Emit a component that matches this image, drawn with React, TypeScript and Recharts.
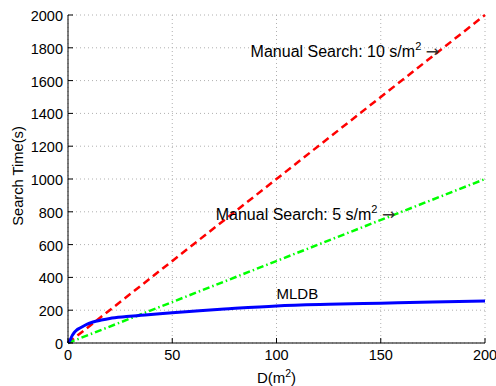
import React from 'react';
import { LineChart, Line, XAxis, YAxis, CartesianGrid, ReferenceDot, Label } from 'recharts';

const xTicks = [0, 50, 100, 150, 200];
const yTicks = [0, 200, 400, 600, 800, 1000, 1200, 1400, 1600, 1800, 2000];

const manualX = [0, 200];
const manual10Y = [0, 2000];
const manual5Y = [0, 1000];

const mldbX = [0, 1, 2, 3, 4, 6, 9, 12, 16, 20, 28, 35, 44, 50, 63, 75, 100, 125, 150, 175, 200];
const mldbY = [0, 18, 45, 64, 77, 93, 114, 128, 140, 150, 161, 169, 179, 185, 197, 207, 226, 236, 243, 250, 256];

const annot10 = { x: 178, y: 1780, text: 'Manual Search: 10 s/m' };
const annot5 = { x: 157, y: 785, text: 'Manual Search: 5 s/m' };
const mldbLabel = { x: 100, y: 300, text: 'MLDB' };

const manual10 = manualX.map((x, i) => ({ x, y: manual10Y[i] }));
const manual5 = manualX.map((x, i) => ({ x, y: manual5Y[i] }));
const mldb = mldbX.map((x, i) => ({ x, y: mldbY[i] }));

const FONT = "'Liberation Sans', Arial, Helvetica, sans-serif";
const FS = 14.5;
const MB = 7;
const ML = 5;
const T = 5;

const BottomTick = (p: any) => {
  const { x, y, payload } = p;
  return (
    <g>
      <line x1={x} x2={x} y1={y - MB} y2={y - MB - T} stroke="#000" strokeWidth={1} />
      <text x={x} y={y} dy="0.71em" textAnchor="middle" fontSize={FS} fontFamily={FONT} fill="#000">
        {payload.value}
      </text>
    </g>
  );
};

const LeftTick = (p: any) => {
  const { x, y, payload } = p;
  return (
    <g>
      <line x1={x + ML} x2={x + ML + T} y1={y} y2={y} stroke="#000" strokeWidth={1} />
      <text x={x} y={y} dy="0.42em" textAnchor="end" fontSize={FS} fontFamily={FONT} fill="#000">
        {payload.value}
      </text>
    </g>
  );
};

const TopTick = (p: any) => {
  const { x, y } = p;
  return <line x1={x} x2={x} y1={y} y2={y + T} stroke="#000" strokeWidth={1} />;
};

const RightTick = (p: any) => {
  const { x, y } = p;
  return <line x1={x} x2={x - T} y1={y} y2={y} stroke="#000" strokeWidth={1} />;
};

const ArrowText = (text: string) => (p: any) => {
  const { cx, cy } = p;
  return (
    <text x={cx} y={cy + 5.5} textAnchor="end" fontSize={16} fontFamily={FONT} fill="#000">
      {text}
      <tspan dy={-6.5} fontSize={11}>2</tspan>
      <tspan dy={6.5}>{' '}</tspan>
      <tspan fontFamily="'DejaVu Sans', sans-serif" fill="#333">{'\u2192'}</tspan>
    </text>
  );
};

const PlainText = (text: string) => (p: any) => {
  const { cx, cy } = p;
  return (
    <text x={cx} y={cy + 5} textAnchor="start" fontSize={15} fontFamily={FONT} fill="#000">
      {text}
    </text>
  );
};

const XLabel = (p: any) => {
  const vb = p.viewBox;
  const cx = vb.x + vb.width / 2;
  const by = vb.y + 39.5;
  return (
    <text x={cx} y={by} textAnchor="middle" fontSize={15} fontFamily={FONT} fill="#000">
      D(m<tspan dy={-6} fontSize={10.5}>2</tspan><tspan dy={6}>)</tspan>
    </text>
  );
};

const YLabel = (p: any) => {
  const vb = p.viewBox;
  const bx = vb.x + 23;
  const cy = vb.y + vb.height / 2 - 3;
  return (
    <text x={bx} y={cy} transform={`rotate(-90, ${bx}, ${cy})`} textAnchor="middle" fontSize={14.7} fontFamily={FONT} fill="#000">
      Search Time(s)
    </text>
  );
};

export default function App() {
  return (
    <div style={{ position: 'absolute', left: 0, top: 0, background: '#fff' }}>
      <LineChart width={496} height={386} margin={{ top: 15, right: 11, bottom: 0, left: 0 }}>
        <CartesianGrid stroke="#b0b0b0" strokeDasharray="1 3" />
        <XAxis
          dataKey="x"
          type="number"
          domain={[0, 200]}
          ticks={xTicks}
          height={43}
          tickSize={0}
          tickMargin={MB}
          tickLine={false}
          axisLine={{ stroke: '#000' }}
          tick={BottomTick}
          interval={0}
        >
          <Label content={XLabel} />
        </XAxis>
        <XAxis
          xAxisId="top"
          orientation="top"
          dataKey="x"
          type="number"
          domain={[0, 200]}
          ticks={xTicks}
          height={0}
          tickSize={0}
          tickMargin={0}
          tickLine={false}
          axisLine={{ stroke: '#000' }}
          tick={TopTick}
          interval={0}
        />
        <YAxis
          type="number"
          domain={[0, 2000]}
          ticks={yTicks}
          width={68}
          tickSize={0}
          tickMargin={ML}
          tickLine={false}
          axisLine={{ stroke: '#000' }}
          tick={LeftTick}
          interval={0}
        >
          <Label content={YLabel} />
        </YAxis>
        <YAxis
          yAxisId="right"
          orientation="right"
          type="number"
          domain={[0, 2000]}
          ticks={yTicks}
          width={0}
          tickSize={0}
          tickMargin={0}
          tickLine={false}
          axisLine={{ stroke: '#000' }}
          tick={RightTick}
          interval={0}
        />
        <Line data={manual10} dataKey="y" type="linear" stroke="#ff0000" strokeWidth={2.5} strokeDasharray="7.5 4.5" dot={false} isAnimationActive={false} />
        <Line data={manual5} dataKey="y" type="linear" stroke="#00ff00" strokeWidth={2.5} strokeDasharray="7 3 1.5 3" dot={false} isAnimationActive={false} />
        <Line data={mldb} dataKey="y" type="monotone" stroke="#0000ff" strokeWidth={3} dot={false} isAnimationActive={false} />
        <ReferenceDot x={annot10.x} y={annot10.y} r={0} shape={ArrowText(annot10.text)} />
        <ReferenceDot x={annot5.x} y={annot5.y} r={0} shape={ArrowText(annot5.text)} />
        <ReferenceDot x={mldbLabel.x} y={mldbLabel.y} r={0} shape={PlainText(mldbLabel.text)} />
      </LineChart>
    </div>
  );
}
